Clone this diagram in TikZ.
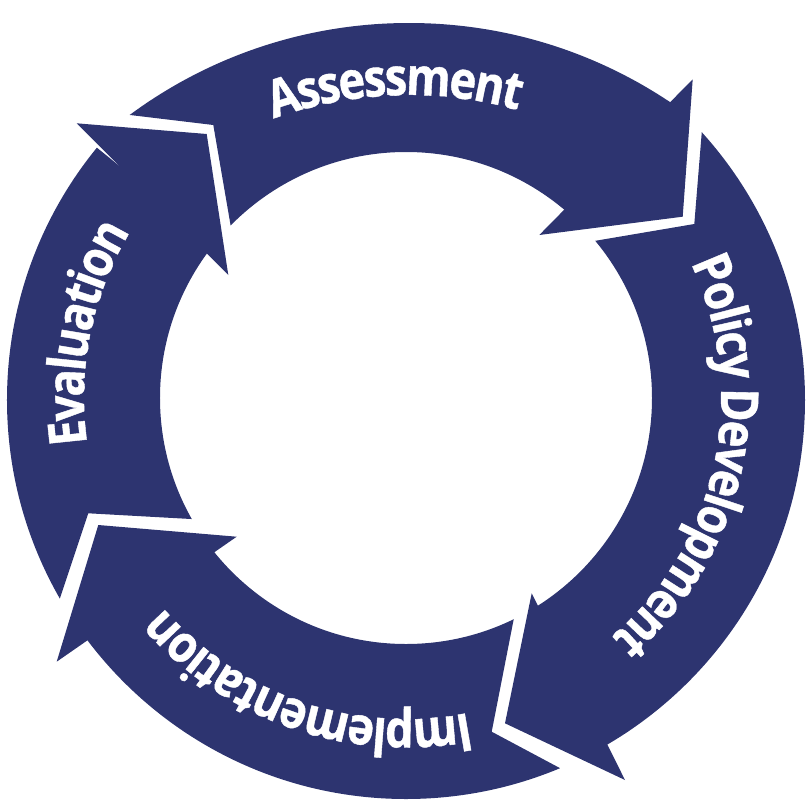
\documentclass[tikz,border=0pt]{standalone}
\usepackage{fontspec}
\newfontfamily\lblfont{Open Sans}[FakeStretch=0.87,FakeBold=0.8]
\newcommand\lblface{\lblfont\bfseries\fontsize{52}{52}\selectfont}
\usetikzlibrary{decorations.text}
\definecolor{ringblue}{RGB}{45,52,112}
\begin{document}
\begin{tikzpicture}[x=1pt,y=1pt,
  body/.style={fill=ringblue, even odd rule},
  head/.style={fill=ringblue},
  lbl/.style={decorate, decoration={text effects along path, text={#1}, text align=center,
     text effects/.cd, text along path,
     characters={text=white, font=\lblface, anchor=base, inner sep=0pt},
     character widths={font=\lblface, inner xsep=-1.1pt}}}
]
\useasboundingbox (-406,-409) rectangle (402,398);
\coordinate (O) at (0,0);
\coordinate (O2) at (0,-2);
\coordinate (O3) at (3,-95);

% Assessment
\begin{scope}
  \clip (-317.7,288) -- (-192.7,273) -- (-162.7,99) -- (0,0) -- (47.5:700) -- (90:800) -- (130:800) -- cycle;
  \fill[body] (O3) circle (470) (O) circle (246);
\end{scope}
\fill[head] (286.7,318.7) -- (276.7,181.3) -- (133.3,163) -- cycle;

% Policy Development
\begin{scope}
  \clip (300.1,319.1) -- (288.3,174) -- (118.6,145.2) -- (0,0) -- (-60:800) -- (-10:900) -- (40:900) -- cycle;
  \fill[body] (O2) circle (399) (O) circle (246);
\end{scope}
\fill[head] (219,-382) -- (99,-325.3) -- (125.7,-195.3) -- cycle;

% Implementation
\begin{scope}
  \clip (205.7,-397.7) -- (85.7,-333.7) -- (118.6,-165.6) -- (0,0) -- (216.5:800) -- (-105:900) -- (-70:900) -- cycle;
  \fill[body] (O2) circle (399) (O) circle (246);
\end{scope}
\fill[head] (-349.3,-263.7) -- (-307.7,-127) -- (-169.3,-138.7) -- cycle;

% Evaluation
\begin{scope}
  \clip (-365.7,-259.3) -- (-317.7,-115.3) -- (-155.7,-124.3) -- (0,0) -- (141:800) -- (180:900) -- (210:900) -- cycle;
  \fill[body] (O2) circle (399) (O) circle (246);
\end{scope}
\fill[head] (-329.3,274.7) -- (-199.3,264) -- (-177.7,123) -- cycle;

% labels
\path[lbl={Assessment}] ([shift={(3,-95)}]132:398) arc[start angle=132, end angle=52, radius=398];
\path[lbl={Policy Development}] (57:315) arc[start angle=57, end angle=-81, radius=315];
\path[lbl={Implementation}] (-40:321) arc[start angle=-40, end angle=-178, radius=321];
\path[lbl={Evaluation}] (240:322) arc[start angle=240, end angle=97, radius=322];
\end{tikzpicture}
\end{document}
